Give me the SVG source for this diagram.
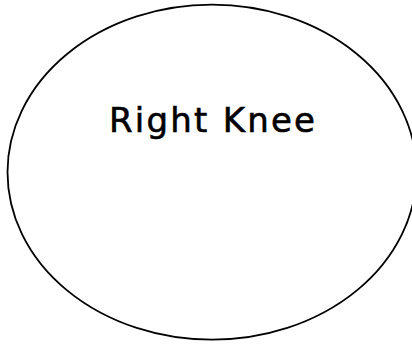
<svg xmlns="http://www.w3.org/2000/svg" width="412" height="345" viewBox="0 0 412 345">
<style>
.shape{fill:#ffffff;stroke:#000000;stroke-width:1.8}
.label{font-family:"Comic Sans MS","DejaVu Sans",sans-serif;font-size:34px;fill:#000000;stroke:#000000;stroke-width:0.6}
</style>
<rect width="412" height="345" fill="#ffffff"/>
<g id="right-knee">
<ellipse class="shape" cx="212" cy="172.2" rx="204.5" ry="167.5"/>
<text class="label" x="212" y="132" text-anchor="middle" textLength="206" lengthAdjust="spacing">Right Knee</text>
</g>
<g id="connectors"></g>
</svg>
